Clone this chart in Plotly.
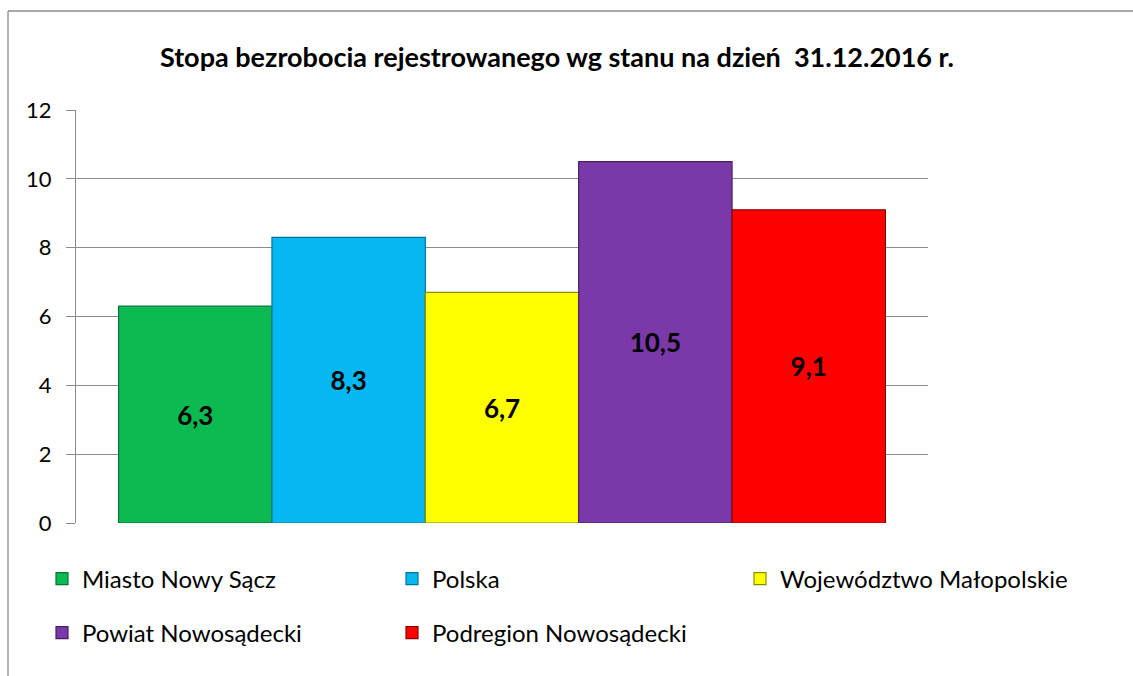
import plotly.graph_objects as go

categories = ["Miasto Nowy Sącz", "Polska", "Województwo Małopolskie",
              "Powiat Nowosądecki", "Podregion Nowosądecki"]
values = [6.3, 8.3, 6.7, 10.5, 9.1]
colors = ["#0BBA50", "#05B8F2", "#FFFF00", "#7A38A8", "#FF0000"]
edge_colors = ["#07743A", "#04739A", "#8A8A00", "#45205F", "#8A0000"]
y_ticks = [0, 2, 4, 6, 8, 10, 12]

# legend entry placement (symbol left edge x, row centre y) in page pixels
legend_ids = ["legend", "legend2", "legend3", "legend4", "legend5"]
legend_x = [62, 412, 760, 62, 412]
legend_y = [579, 579, 579, 633, 633]

FONT = "Lato"

W, H = 1133, 676
L, R, T, B = 76, 928, 110, 523

fig = go.Figure()
for name, v, c, ec, lg in zip(categories, values, colors, edge_colors, legend_ids):
    fig.add_trace(go.Bar(
        x=[""], y=[v], name=name, legend=lg, showlegend=True,
        marker=dict(color=c, line=dict(color=ec, width=1.2)),
        texttemplate="%{y:.1f}", textposition="inside",
        insidetextanchor="middle",
        textfont=dict(family=FONT, size=26, color="black", weight="bold"),
        hoverinfo="skip",
    ))


def px(x):
    return (x - L) / (R - L)


def py(y):
    return (B - y) / (B - T)


legends = {}
for lg, lx, ly in zip(legend_ids, legend_x, legend_y):
    legends[lg] = dict(orientation="h", xref="container", yref="container",
                       x=(lx - 20) / W, y=1 - ly / H,
                       xanchor="left", yanchor="middle",
                       font=dict(family=FONT, size=24, color="black"),
                       bgcolor="rgba(0,0,0,0)")

fig.update_layout(
    width=W, height=H,
    showlegend=True,
    margin=dict(l=L, r=W - R, t=T, b=H - B),
    paper_bgcolor="white", plot_bgcolor="white",
    separators=", ",
    barmode="group", bargap=0.1, bargroupgap=0,
    title=dict(text="<b>Stopa bezrobocia rejestrowanego wg stanu na dzień  31.12.2016 r.</b>",
               x=557 / W, xanchor="center", y=1 - 58 / H, yanchor="middle",
               font=dict(family=FONT, size=27, color="black")),
    font=dict(family=FONT, size=22, color="black"),
    xaxis=dict(showticklabels=False, showgrid=False, zeroline=False,
               showline=False),
    yaxis=dict(range=[0, 12], tickvals=y_ticks, showgrid=True,
               gridcolor="#8C8C8C", gridwidth=1.3,
               showline=True, linecolor="#8C8C8C", linewidth=1.3,
               ticks="outside", ticklen=9, tickcolor="#8C8C8C", tickwidth=1.3,
               ticklabelstandoff=10,
               zeroline=False, tickfont=dict(family=FONT, size=22, color="black")),
    shapes=[
        dict(type="line", xref="paper", yref="paper",
             x0=px(8), x1=px(8), y0=py(11), y1=py(H + 20),
             line=dict(color="#8C8C8C", width=1.3)),
        dict(type="line", xref="paper", yref="paper",
             x0=px(8), x1=px(W + 20), y0=py(11), y1=py(11),
             line=dict(color="#8C8C8C", width=1.3)),
    ],
    **legends,
)

fig.write_html("out.html",
               config={"displayModeBar": False},
               post_script="document.body.style.margin='0';"
                           "document.body.style.overflow='hidden';")
